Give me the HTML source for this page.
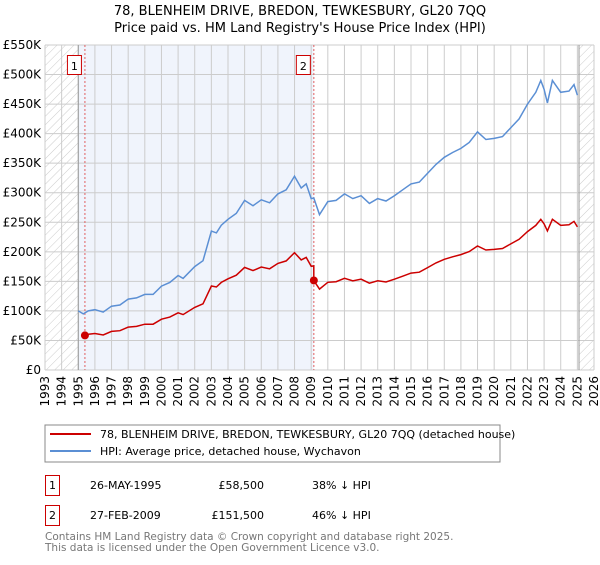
<!DOCTYPE html>
<html><head><meta charset="utf-8"><style>
body{margin:0;background:#fff;}
svg{font-family:"DejaVu Sans","Liberation Sans",sans-serif;}
</style></head><body>
<svg id="c" width="600" height="560" xmlns="http://www.w3.org/2000/svg">
<defs><pattern id="h" width="6" height="6" patternUnits="userSpaceOnUse" patternTransform="rotate(45)"><line x1="0" y1="0" x2="0" y2="6" stroke="#ccc" stroke-width="1"/></pattern></defs>
<text x="300" y="15" text-anchor="middle" font-size="13">78, BLENHEIM DRIVE, BREDON, TEWKESBURY, GL20 7QQ</text>
<text x="300" y="32" text-anchor="middle" font-size="13">Price paid vs. HM Land Registry's House Price Index (HPI)</text>
<g id="plot"></g>
<rect x="45" y="425" width="455" height="37" fill="none" stroke="#888"/>
<line x1="50" y1="434" x2="91" y2="434" stroke="#cc0000" stroke-width="2"/>
<text x="100" y="438" font-size="11">78, BLENHEIM DRIVE, BREDON, TEWKESBURY, GL20 7QQ (detached house)</text>
<line x1="50" y1="451" x2="91" y2="451" stroke="#5b8fd4" stroke-width="2"/>
<text x="100" y="455" font-size="11">HPI: Average price, detached house, Wychavon</text>
<g font-size="11">
<rect x="45.5" y="475.5" width="14" height="20" fill="none" stroke="#cc0000"/><text x="49" y="489">1</text>
<text x="90" y="489">26-MAY-1995</text><text x="264" y="489" text-anchor="end">£58,500</text><text x="312" y="489">38% ↓ HPI</text></g>
<g font-size="11">
<rect x="45.5" y="505.5" width="14" height="20" fill="none" stroke="#cc0000"/><text x="49" y="519">2</text>
<text x="90" y="519">27-FEB-2009</text><text x="264" y="519" text-anchor="end">£151,500</text><text x="312" y="519">46% ↓ HPI</text></g>
<text x="45" y="540" font-size="10.5" fill="#777">Contains HM Land Registry data © Crown copyright and database right 2025.</text>
<text x="45" y="551" font-size="10.5" fill="#777">This data is licensed under the Open Government Licence v3.0.</text>
</svg>
<script>
const hpiYears=[1995.0,1995.3,1995.6,1996,1996.5,1997,1997.5,1998,1998.5,1999,1999.5,2000,2000.5,2001,2001.3,2002,2002.5,2003,2003.3,2003.6,2004,2004.5,2005,2005.5,2006,2006.5,2007,2007.5,2008,2008.4,2008.7,2009.0,2009.16,2009.5,2010,2010.5,2011,2011.5,2012,2012.5,2013,2013.5,2014,2014.5,2015,2015.5,2016,2016.5,2017,2017.5,2018,2018.5,2019,2019.5,2020,2020.5,2021,2021.5,2022,2022.5,2022.8,2023.0,2023.2,2023.5,2024,2024.5,2024.8,2025.0];
const hpiValues=[100,95,100,102,98,108,110,120,122,128,128,142,148,160,155,175,185,235,232,245,255,265,287,278,288,283,298,305,328,308,315,290,291,263,285,287,298,290,295,282,290,286,295,305,315,318,333,348,360,368,375,385,403,390,392,395,410,425,450,470,490,475,452,490,470,472,483,465];
const saleYears=[1995.4,2009.16];
const salePrices=[58.5,151.5];
const saleLabels=["1","2"];
const yTicks=[0,50,100,150,200,250,300,350,400,450,500,550];
const yTickLabels=["£0","£50K","£100K","£150K","£200K","£250K","£300K","£350K","£400K","£450K","£500K","£550K"];
const xYears=[1993,1994,1995,1996,1997,1998,1999,2000,2001,2002,2003,2004,2005,2006,2007,2008,2009,2010,2011,2012,2013,2014,2015,2016,2017,2018,2019,2020,2021,2022,2023,2024,2025,2026];
const X0=45,X1=594,Y0=370,Y1=45;
const xs=y=>X0+(y-1993)/(2026-1993)*(X1-X0);
const ys=v=>Y0-v/550*(Y0-Y1);
const NS="http://www.w3.org/2000/svg";
const g=document.getElementById('plot');
function el(t,a){const e=document.createElementNS(NS,t);for(const k in a)e.setAttribute(k,a[k]);g.appendChild(e);return e;}
function hpiAt(y){for(let i=1;i<hpiYears.length;i++){if(y<=hpiYears[i]){const t=(y-hpiYears[i-1])/(hpiYears[i]-hpiYears[i-1]);return hpiValues[i-1]+t*(hpiValues[i]-hpiValues[i-1]);}}return hpiValues[hpiValues.length-1];}
let e;
e=el('rect',{x:X0,y:Y1,width:X1-X0,height:Y0-Y1,fill:'#fff'});
e=el('rect',{x:xs(1995),y:Y1,width:xs(saleYears[1])-xs(1995),height:Y0-Y1,fill:'#f0f4fc'});


e=el('rect',{x:X0,y:Y1,width:xs(1995)-X0,height:Y0-Y1,fill:'url(#h)'});


e=el('rect',{x:xs(2025.1),y:Y1,width:X1-xs(2025.1),height:Y0-Y1,fill:'url(#h)'});


yTicks.forEach((v,i)=>{
 e=el('line',{x1:X0,x2:X1,y1:ys(v),y2:ys(v),stroke:'#ccc'});
 
 
 e=el('text',{x:X0-4,y:ys(v)+4,'text-anchor':'end','font-size':'12'});e.textContent=yTickLabels[i];
 
 
});
xYears.forEach(y=>{
 e=el('line',{x1:xs(y),x2:xs(y),y1:Y1,y2:Y0,stroke:'#ccc'});
 
 
 e=el('text',{x:0,y:0,'font-size':'12','text-anchor':'end',transform:`translate(${xs(y)+4},${Y0+6}) rotate(-90)`});e.textContent=y;
 
 
});
e=el('line',{x1:xs(1995),x2:xs(1995),y1:Y1,y2:Y0,stroke:'#999'});
e=el('line',{x1:xs(2025.1),x2:xs(2025.1),y1:Y1,y2:Y0,stroke:'#999'});
saleYears.forEach((y,i)=>{
 e=el('line',{x1:xs(y),x2:xs(y),y1:Y1,y2:Y0,stroke:'#e06060','stroke-dasharray':'2,2'});
 
 
});
// HPI line
let d=hpiYears.map((y,i)=>(i?'L':'M')+xs(y).toFixed(1)+','+ys(hpiValues[i]).toFixed(1)).join('');
e=el('path',{d:d,fill:'none',stroke:'#5b8fd4','stroke-width':'1.5'});


// property line: indexed to HPI from each sale
let pts=[];
const f1=salePrices[0]/hpiAt(saleYears[0]), f2=salePrices[1]/hpiAt(saleYears[1]);
pts.push([saleYears[0],salePrices[0]]);
hpiYears.forEach((y,i)=>{ if(y>saleYears[0]&&y<saleYears[1]) pts.push([y,hpiValues[i]*f1]); });
pts.push([saleYears[1],hpiAt(saleYears[1])*f1]);
pts.push([saleYears[1],salePrices[1]]);
hpiYears.forEach((y,i)=>{ if(y>saleYears[1]) pts.push([y,hpiValues[i]*f2]); });
d=pts.map((p,i)=>(i?'L':'M')+xs(p[0]).toFixed(1)+','+ys(p[1]).toFixed(1)).join('');
e=el('path',{d:d,fill:'none',stroke:'#cc0000','stroke-width':'1.5'});


saleYears.forEach((y,i)=>{
 e=el('circle',{cx:xs(y),cy:ys(salePrices[i]),r:4,fill:'#cc0000'});
 
 
 e=el('rect',{x:xs(y)-17.5,y:55.5,width:14,height:19,fill:'#fff',stroke:'#cc0000'});
 
 
 e=el('text',{x:xs(y)-10.5,y:70,'text-anchor':'middle','font-size':'11'});e.textContent=saleLabels[i];
 
 
});
</script>
</body></html>
